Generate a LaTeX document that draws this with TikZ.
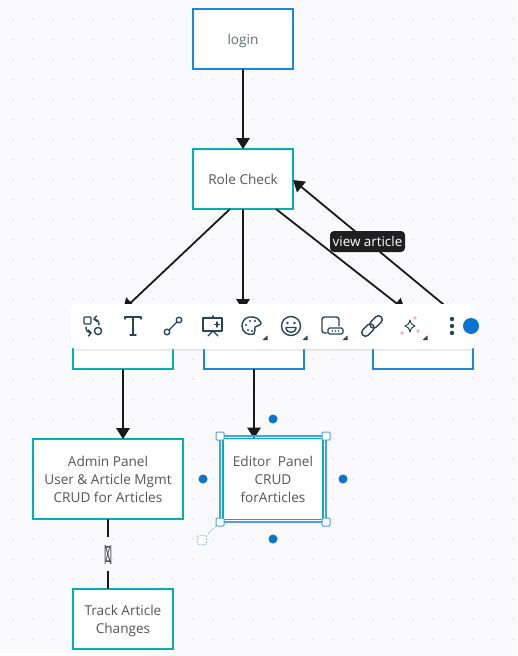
\documentclass[tikz,border=0pt]{standalone}
\usepackage{fontspec}
\setmainfont{Open Sans}
\usetikzlibrary{arrows.meta,shadows}
\definecolor{canvasbg}{HTML}{FAFAFC}
\definecolor{griddot}{HTML}{DCDDE3}
\definecolor{boxteal}{HTML}{00B2B2}
\definecolor{boxblue}{HTML}{168BDD}
\definecolor{inktext}{HTML}{555555}
\definecolor{logintext}{HTML}{5F6F80}
\definecolor{iconink}{HTML}{28445C}
\definecolor{handleblue}{HTML}{0A74CF}
\definecolor{selectblue}{HTML}{4A9FE8}
\definecolor{sparkpink}{HTML}{F6A6A6}
\newcommand{\textdrop}{13pt}
\begin{document}
\begin{tikzpicture}[x=1pt,y=-1pt,
    dropped/.code={\renewcommand{\textdrop}{#1}},
    flowbox/.style={draw,line width=1.8pt,fill=white,minimum width=100pt,minimum height=60pt,
      outer sep=0pt,align=center,text=inktext,font=\fontsize{13.6}{18}\selectfont,
      execute at begin node={\rule{0pt}{\textdrop}}},
    tealbox/.style={flowbox,draw=boxteal},
    bluebox/.style={flowbox,draw=boxblue},
    boxtext/.style={align=center,text=inktext,font=\fontsize{13.6}{18}\selectfont,inner sep=0pt},
    flow/.style={line width=1.8pt,draw=black!90,-{Triangle[length=11pt,width=13.5pt]}},
    plainflow/.style={line width=1.8pt,draw=black!90},
    tag/.style={fill=black!88,text=white,rounded corners=4pt,inner sep=2.5pt,minimum width=75pt,
      minimum height=21pt,font=\fontsize{13.4}{14}\selectfont},
    handle/.style={draw=selectblue,fill=white,line width=1pt,minimum size=8pt,inner sep=0pt,rounded corners=1pt},
    anchordot/.style={circle,fill=handleblue,minimum size=9pt,inner sep=0pt},
    icon/.style={draw=iconink,line width=1.4pt,line cap=round,line join=round},
    corner/.style={fill=iconink,draw=none},
    toolbar/.style={fill=white,rounded corners=4pt,draw=none,minimum width=404pt,minimum height=45pt,
      drop shadow={opacity=.18,shadow xshift=0pt,shadow yshift=-1.5pt}},
    % Toolbar icons
    swapicon/.pic={
      \draw[icon,rounded corners=1pt] (-9,-9) rectangle (-2,-2);
      \draw[icon] (5,5) circle (3.6);
      \draw[icon] (6,-1) .. controls (6,-5) and (4,-7) .. (1,-7);
      \draw[icon] (3.5,-10) -- (1,-7) -- (4,-4.5);
      \draw[icon] (-7,1) .. controls (-7,5) and (-5,7) .. (-2,7);
      \draw[icon] (-4.5,4) -- (-2,7) -- (-4.5,10);
    },
    texticon/.pic={
      \draw[icon] (-8,-7) -- (-8,-9) -- (8,-9) -- (8,-7);
      \draw[icon] (0,-9) -- (0,9);
      \draw[icon] (-3,9) -- (3,9);
    },
    lineicon/.pic={
      \draw[icon] (-6,6) circle (2.8);
      \draw[icon] (6,-6) circle (2.8);
      \draw[icon] (-4,4) -- (4,-4);
    },
    slideicon/.pic={
      \draw[icon] (-10,-8) rectangle (9,5);
      \draw[icon] (0,-10) -- (0,-8);
      \draw[icon] (0,5) -- (-5,10);
      \draw[icon] (0,5) -- (5,10);
      \draw[icon] (4,-4) -- (4,1);
      \draw[icon] (1.5,-1.5) -- (6.5,-1.5);
    },
    paletteicon/.pic={
      \draw[icon] (-2,-9) .. controls (5,-10) and (9,-6) .. (10,-3)
        .. controls (10,0) and (6,-1) .. (4,1)
        .. controls (3,4) and (5,5) .. (3,8)
        .. controls (-3,10) and (-9,6) .. (-9,0)
        .. controls (-9,-5) and (-6,-8) .. (-2,-9) -- cycle;
      \foreach \dotx/\doty in {-5/-1,-1/-5,4/-5,-3/4,1/5}
        \fill[iconink] (\dotx,\doty) circle (1.2);
    },
    smileicon/.pic={
      \draw[icon] (0,0) circle (9.5);
      \fill[iconink] (-3.5,-3) circle (1.4);
      \fill[iconink] (3.5,-3) circle (1.4);
      \draw[icon] (-5,1.5) -- (5,1.5) .. controls (5,8) and (-5,8) .. (-5,1.5) -- cycle;
    },
    cardicon/.pic={
      \draw[icon,rounded corners=2.5pt] (-2,7) -- (-7,7) -- (-7,-9) -- (10,-9) -- (10,0);
      \draw[icon,fill=white,rounded corners=1.5pt] (-1,2) rectangle (14,8);
      \foreach \dotx in {3.5,6.5,9.5}
        \fill[iconink] (\dotx,5) circle (0.9);
    },
    linkicon/.pic={
      \begin{scope}[rotate=45]
        \draw[icon,rounded corners=3.8pt] (-1.5,-3.8) rectangle (13,3.8);
        \draw[icon,rounded corners=3.8pt] (-13,-3.8) rectangle (1.5,3.8);
      \end{scope}
    },
    sparkleicon/.pic={
      \draw[icon,line width=1pt] (0,-6) .. controls (1,-2) and (2,-1) .. (5,0)
        .. controls (2,1) and (1,2) .. (0,6)
        .. controls (-1,2) and (-2,1) .. (-5,0)
        .. controls (-2,-1) and (-1,-2) .. (0,-6) -- cycle;
      \foreach \dotx/\doty in {5/-8,-8/7,8/5}{
        \fill[sparkpink] (\dotx,\doty-2.5) -- (\dotx+.7,\doty-.7) -- (\dotx+2.5,\doty)
          -- (\dotx+.7,\doty+.7) -- (\dotx,\doty+2.5) -- (\dotx-.7,\doty+.7)
          -- (\dotx-2.5,\doty) -- (\dotx-.7,\doty-.7) -- cycle;
      }
    },
  ]

  % Canvas and dot grid
  \useasboundingbox (0,0) rectangle (517,656);
  \fill[canvasbg] (0,0) rectangle (517,656);
  \foreach \x in {13,33,...,513} {
    \foreach \y in {19,39,...,639} {
      \fill[griddot] (\x,\y) circle (0.9);
    }
  }
  \fill[white] (0,653) rectangle (147,656);

  % Boxes
  \node[bluebox,text=logintext,dropped=15pt] (login) at (243,39) {login};
  \node[tealbox,dropped=11pt] (role) at (243,179) {Role Check};
  \node[tealbox] (adminrole) at (123,339) {};
  \node[bluebox] (editorrole) at (254,339) {};
  \node[bluebox] (viewerrole) at (423,339) {};
  \node[tealbox,minimum width=150pt,minimum height=80pt] (admin) at (108,479)
    {Admin Panel\\User \& Article Mgmt\\CRUD for Articles};
  \node[tealbox,minimum height=81pt] (editor) at (273,479)
    {Editor\ \ Panel\\CRUD\\forArticles};
  \node[tealbox] (track) at (123,619) {};
  \node[boxtext] (tracktext) at ([yshift=-1.5pt]track.center) {Track Article\\Changes};

  % Connectors
  \draw[flow] (login) -- (role);
  \draw[flow] ([xshift=-13pt]role.south) -- ([yshift=-1pt]adminrole.north);
  \draw[flow] (role.south) -- ([xshift=-11pt,yshift=-1pt]editorrole.north);
  \draw[flow] ([xshift=33pt]role.south) -- ([xshift=-18pt,yshift=-1pt]viewerrole.north);
  \draw[flow] (adminrole.south) -- (adminrole.south |- admin.north);
  \draw[flow] (editorrole.south) -- (editorrole.south |- editor.north);

  % Return path, with its tag on top
  \coordinate (viewerexit) at (449,309);
  \draw[flow] (viewerexit) -- ([yshift=-1pt]role.east);
  \node[tag] (viewtag) at (367.5,241.5) {view article};

  % Admin down to tracking, broken by its garbled mark
  \coordinate (markabove) at (108,537);
  \coordinate (markbelow) at (108,571);
  \draw[plainflow] (admin.south -| markabove) -- (markabove);
  \draw[plainflow] (markbelow) -- (track.north -| markbelow);
  \node[text=inktext,inner sep=0pt,xscale=0.85,yscale=1.9,font=\fontsize{14}{14}\selectfont] (mark) at (108,554.5) {N};
  \node[text=inktext,inner sep=0pt,xscale=0.7,yscale=1.6,font=\fontsize{14}{14}\selectfont] (markover) at (108,554.5) {Z};

  % Selection frame around the editor box
  \coordinate (selnw) at (220,436);
  \coordinate (selse) at (326,522);
  \draw[selectblue,line width=1.8pt] (selnw) rectangle (selse);
  \draw[boxteal,line width=1.8pt] (editor.north west) rectangle (editor.south east);
  \foreach \name/\hx/\hy in {hnw/220/436,hne/326/436,hsw/220/522,hse/326/522} {
    \node[handle] (\name) at (\hx,\hy) {};
  }
  \node[handle,minimum size=9pt,dotted,rounded corners=2pt] (hrot) at (202,540) {};
  \draw[selectblue,line width=1pt,dotted] (hsw) -- (hrot);
  \node[anchordot] (dottop) at (273,419) {};
  \node[anchordot] (dotleft) at (203,479) {};
  \node[anchordot] (dotright) at (343,479) {};
  \node[anchordot] (dotbottom) at (273,539) {};

  % Toolbar
  \node[toolbar] (bar) at (273,326.5) {};
  \pic at (93,326) {swapicon};
  \pic at (133,326) {texticon};
  \pic at (173,326) {lineicon};
  \pic at (213,326) {slideicon};
  \pic at (251,326) {paletteicon};
  \pic at (291,326) {smileicon};
  \pic at (329,326) {cardicon};
  \pic at (372,326) {linkicon};
  \pic at (410,326) {sparkleicon};
  \foreach \cx in {265,305,345,425} {
    \fill[corner] (\cx-2.5,340) -- (\cx+2.5,340) -- (\cx+2.5,335.5) -- cycle;
  }
  \foreach \dy in {319,326,333} {
    \fill[iconink] (452,\dy) circle (2.2);
  }
  \node[circle,fill=handleblue,minimum size=16pt,inner sep=0pt] (colordot) at (471,326) {};

\end{tikzpicture}
\end{document}
